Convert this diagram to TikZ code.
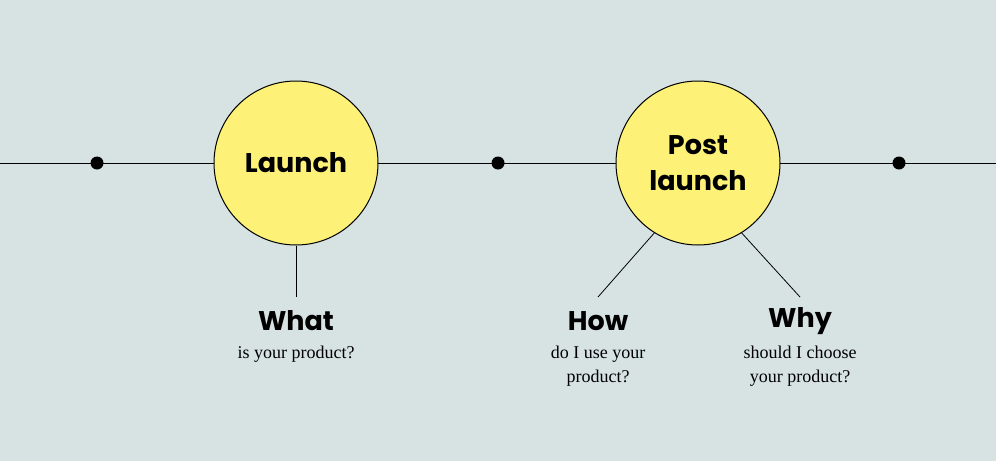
\documentclass[tikz,border=0pt]{standalone}
\usepackage{fontspec}
\newfontfamily\pop{Poppins}
\newfontfamily\ser{Liberation Serif}
\definecolor{bg}{HTML}{D7E3E3}
\definecolor{yel}{HTML}{FDF277}
\begin{document}
\begin{tikzpicture}[x=1pt,y=-1pt,
  circ/.style={circle,draw=black,line width=1pt,fill=yel,minimum size=164pt,inner sep=0pt,align=center,font=\pop\fontsize{27}{36}\selectfont\bfseries},
  dot/.style={circle,fill=black,minimum size=13pt,inner sep=0pt},
  head/.style={font=\pop\fontsize{27}{32}\selectfont\bfseries,inner sep=0pt},
  sub/.style={font=\ser\fontsize{18}{24}\selectfont,align=center,inner sep=0pt,anchor=north},
  ln/.style={line width=0.8pt}]
\fill[bg] (0,0) rectangle (996,461);
\useasboundingbox (0,0) rectangle (996,461);
\coordinate (L) at (0,163); \coordinate (R) at (996,163);
\draw[ln] (L) -- (R);
\node[dot] (d1) at (97,163) {};
\node[dot] (d2) at (498,163) {};
\node[dot] (d3) at (899,163) {};
\node[circ] (c1) at (296,163) {Launch};
\node[circ] (c2) at (698,163) {Post\\launch};
\node[head] (h1) at (296,321) {What};
\node[head] (h2) at (598,321) {How};
\node[head] (h3) at (800,321) {Why};
\node[sub] (s1) at (296,346) {is your product?};
\node[sub] (s2) at (598,346) {do I use your\\product?};
\node[sub] (s3) at (800,346) {should I choose\\your product?};
\coordinate (e1) at (296,297); \coordinate (e2) at (598,297); \coordinate (e3) at (800,297);
\draw[ln] (c1.south) -- (e1);
\draw[ln] (c2.-122) -- (e2);
\draw[ln] (c2.-58) -- (e3);
\end{tikzpicture}
\end{document}
